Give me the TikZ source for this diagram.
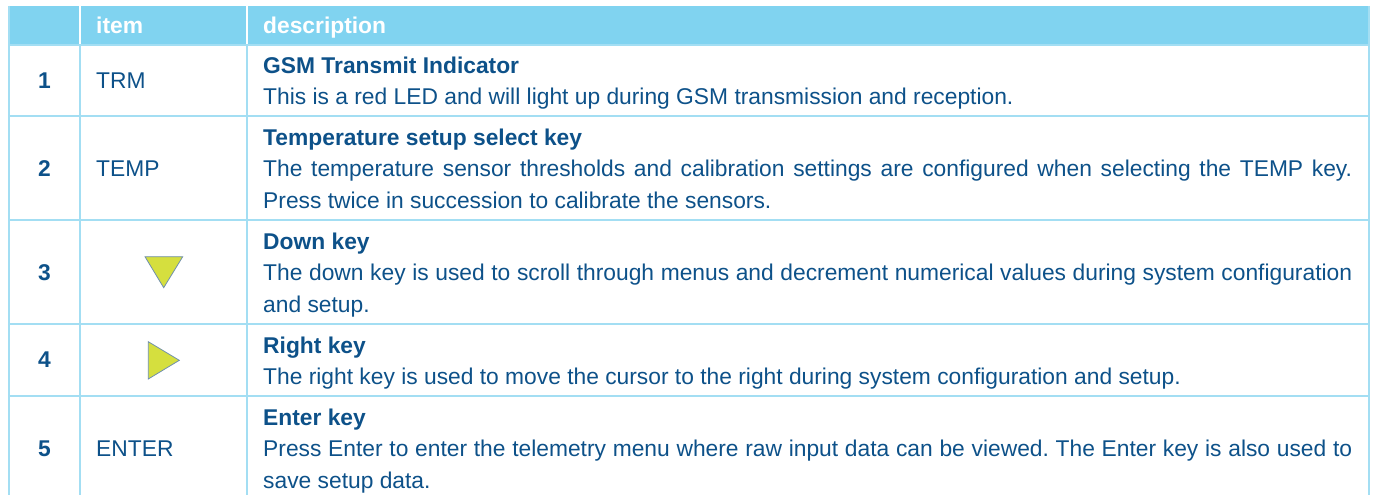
\documentclass[tikz,border=0pt]{standalone}
\usepackage{fontspec}
\setmainfont{Liberation Sans}
\definecolor{hdr}{HTML}{80D3F0}
\definecolor{grid}{HTML}{A3DEF3}
\definecolor{txt}{HTML}{0D5189}
\definecolor{keyfill}{HTML}{D5DF3E}
\definecolor{keyline}{HTML}{6F8FAD}
\frenchspacing
\tikzset{
  gridline/.style={draw=grid, line width=1.4pt},
  hdrtext/.style={text=white, font=\fontsize{22.8}{27}\selectfont\bfseries, anchor=base west, inner sep=0pt},
  numtext/.style={text=txt, font=\fontsize{22.8}{27}\selectfont\bfseries, inner sep=0pt},
  itemtext/.style={text=txt, font=\fontsize{22.8}{27}\selectfont, anchor=west, inner sep=0pt},
  desctext/.style={text=txt, font=\fontsize{22.8}{31.5}\selectfont\frenchspacing, anchor=north west, inner sep=0pt, text width=1089pt, align=justify},
  keytri/.style={fill=keyfill, draw=keyline, line width=0.8pt, line join=miter}
}
\newcommand{\fs}{\rule{0pt}{20pt}}
\begin{document}
\begin{tikzpicture}[x=1pt,y=-1pt]
\useasboundingbox (0,0) rectangle (1375,495);
% header
\fill[hdr] (9,6) rectangle (1369,45);
\draw[white, line width=1.4pt] (80,6) -- (80,45) (247,6) -- (247,45);
\node[hdrtext] (hitem) at (96,34) {item};
\node[hdrtext] (hdesc) at (263,34) {description};
% grid
\draw[gridline] (9,6) -- (9,495);
\draw[gridline] (1369,6) -- (1369,495);
\draw[gridline] (80,45) -- (80,495);
\draw[gridline] (247,45) -- (247,495);
\draw[gridline] (9,45) -- (1369,45);
\draw[gridline] (9,116) -- (1369,116);
\draw[gridline] (9,220) -- (1369,220);
\draw[gridline] (9,324) -- (1369,324);
\draw[gridline] (9,396) -- (1369,396);
% numbers
\node[numtext] (n1) at (44.5,81) {1};
\node[numtext] (n2) at (44.5,169) {2};
\node[numtext] (n3) at (44.5,273) {3};
\node[numtext] (n4) at (44.5,360) {4};
\node[numtext] (n5) at (44.5,449) {5};
% items
\node[itemtext] (i1) at (96,81) {TRM};
\node[itemtext] (i2) at (96,169) {TEMP};
\fill[keytri] (145,256.7) -- (182.7,256.7) -- (163.7,287.7) -- cycle;
\fill[keytri] (148.3,341.7) -- (148.3,379) -- (179.3,360.3) -- cycle;
\node[itemtext] (i5) at (96,449) {ENTER};
% descriptions
\node[desctext] (d1) at (263,53) {\fs\textbf{GSM Transmit Indicator}\\This is a red LED and will light up during GSM transmission and reception.};
\node[desctext] (d2) at (263,125) {\fs\textbf{Temperature setup select key}\\The temperature sensor thresholds and calibration settings are configured when selecting the TEMP key.\linebreak Press twice in succession to calibrate the sensors.};
\node[desctext] (d3) at (263,229) {\fs\textbf{Down key}\\The down key is used to scroll through menus and decrement numerical values during system configuration\linebreak and setup.};
\node[desctext] (d4) at (263,333) {\fs\textbf{Right key}\\The right key is used to move the cursor to the right during system configuration and setup.};
\node[desctext] (d5) at (263,405) {\fs\textbf{Enter key}\\Press Enter to enter the telemetry menu where raw input data can be viewed. The Enter key is also used to\linebreak save setup data.};
\end{tikzpicture}
\end{document}
